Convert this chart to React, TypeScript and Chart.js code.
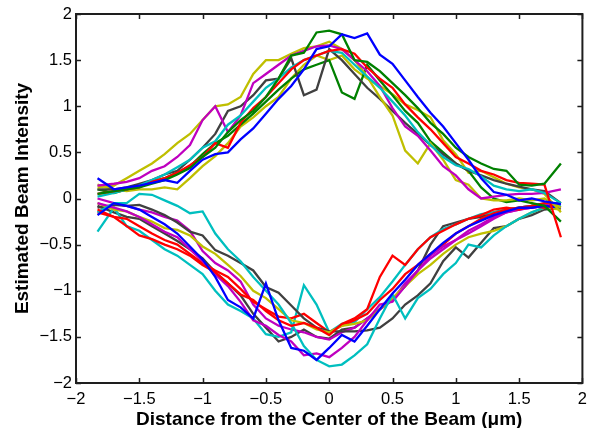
import React, { useEffect, useRef } from 'react';
import { Chart, registerables } from 'chart.js';

Chart.register(...registerables);

// x positions (µm) shared by all traces
const X = [-1.83, -1.7, -1.6, -1.5, -1.4, -1.3, -1.2, -1.1, -1.0, -0.9, -0.8, -0.7, -0.6, -0.5, -0.4, -0.3, -0.2, -0.1, 0, 0.1, 0.2, 0.3, 0.4, 0.5, 0.6, 0.7, 0.8, 0.9, 1.0, 1.1, 1.2, 1.3, 1.4, 1.5, 1.6, 1.7, 1.83];

// positive (upper) traces
const upBlue = [0.22, 0.1, 0.12, 0.14, 0.17, 0.2, 0.17, 0.3, 0.42, 0.48, 0.5, 0.64, 0.76, 0.92, 1.08, 1.22, 1.4, 1.62, 1.65, 1.78, 1.74, 1.79, 1.56, 1.46, 1.28, 1.1, 0.93, 0.78, 0.6, 0.42, 0.22, 0.07, 0.04, -0.02, 0.0, -0.03, -0.06];
const upGreen1 = [0.05, 0.08, 0.1, 0.12, 0.16, 0.2, 0.26, 0.33, 0.45, 0.55, 0.72, 0.85, 0.95, 1.1, 1.3, 1.55, 1.58, 1.8, 1.82, 1.78, 1.5, 1.48, 1.38, 1.25, 1.12, 0.98, 0.82, 0.7, 0.55, 0.45, 0.38, 0.32, 0.3, 0.15, 0.14, 0.16, 0.38];
const upRed = [0.05, 0.08, 0.1, 0.12, 0.18, 0.22, 0.28, 0.36, 0.45, 0.6, 0.55, 0.82, 0.98, 1.1, 1.25, 1.4, 1.5, 1.55, 1.6, 1.62, 1.57, 1.42, 1.3, 1.2, 1.02, 0.88, 0.75, 0.6, 0.45, 0.38, 0.3, 0.26, 0.2, 0.17, 0.16, 0.15, -0.42];
const upCyan = [0.02, 0.06, 0.1, 0.14, 0.2, 0.26, 0.34, 0.42, 0.55, 0.62, 0.8, 0.9, 1.05, 1.2, 1.3, 1.42, 1.5, 1.55, 1.6, 1.58, 1.45, 1.32, 1.2, 1.05, 0.9, 0.72, 0.58, 0.45, 0.36, 0.32, 0.24, 0.14, 0.1, 0.08, 0.1, 0.06, -0.05];
const upMagenta = [0.14, 0.16, 0.18, 0.22, 0.3, 0.35, 0.45, 0.58, 0.85, 1.0, 0.72, 0.9, 1.25, 1.35, 1.45, 1.55, 1.6, 1.65, 1.66, 1.62, 1.5, 1.38, 1.22, 0.98, 0.78, 0.68, 0.52, 0.35, 0.25, 0.1, 0.0, 0.02, 0.04, 0.05, 0.05, 0.06, 0.1];
const upYellow1 = [0.12, 0.14, 0.22, 0.3, 0.38, 0.48, 0.6, 0.7, 0.85, 1.0, 1.02, 1.1, 1.35, 1.5, 1.5, 1.57, 1.63, 1.65, 1.7, 1.62, 1.5, 1.32, 1.1, 0.9, 0.52, 0.38, 0.6, 0.42, 0.2, 0.15, 0.0, -0.02, -0.02, 0.0, -0.02, 0.0, -0.1];
const upGray = [0.1, 0.1, 0.12, 0.16, 0.2, 0.26, 0.3, 0.42, 0.55, 0.7, 0.95, 1.0, 1.12, 1.28, 1.3, 1.52, 1.12, 1.18, 1.62, 1.5, 1.35, 1.2, 1.08, 0.95, 0.82, 0.7, 0.58, 0.48, 0.38, 0.3, 0.25, 0.2, 0.16, 0.13, 0.1, 0.08, -0.05];
const upGreen2 = [0.1, 0.06, 0.1, 0.14, 0.18, 0.22, 0.28, 0.35, 0.48, 0.6, 0.68, 0.8, 0.92, 1.05, 1.18, 1.3, 1.4, 1.45, 1.5, 1.15, 1.08, 1.45, 1.28, 1.12, 0.95, 0.82, 0.62, 0.5, 0.38, 0.3, 0.12, 0.0, -0.04, -0.02, -0.05, -0.08, -0.25];
const upYellow2 = [0.15, 0.1, 0.08, 0.1, 0.1, 0.12, 0.1, 0.22, 0.35, 0.46, 0.6, 0.78, 0.88, 1.0, 1.1, 1.3, 1.45, 1.55, 1.5, 1.55, 1.4, 1.3, 1.22, 1.13, 1.02, 0.96, 0.88, 0.63, 0.48, 0.28, 0.3, 0.23, 0.16, 0.12, 0.1, 0.05, -0.15];

// negative (lower) traces
const loBlue = [-0.18, -0.05, -0.08, -0.12, -0.2, -0.28, -0.38, -0.52, -0.66, -0.85, -1.1, -1.18, -1.3, -0.92, -1.32, -1.62, -1.65, -1.75, -1.62, -1.48, -1.55, -1.38, -1.2, -1.03, -0.88, -0.72, -0.6, -0.48, -0.38, -0.3, -0.24, -0.18, -0.14, -0.1, -0.1, -0.08, -0.1];
const loRed1 = [-0.12, -0.2, -0.3, -0.4, -0.44, -0.5, -0.55, -0.62, -0.72, -0.8, -0.92, -1.04, -1.1, -1.22, -1.32, -1.38, -1.35, -1.4, -1.48, -1.36, -1.3, -1.2, -0.85, -0.62, -0.72, -0.55, -0.42, -0.35, -0.28, -0.22, -0.18, -0.12, -0.1, -0.12, -0.08, -0.1, -0.05];
const loCyan1 = [-0.15, -0.05, -0.05, 0.05, 0.04, -0.02, -0.08, -0.16, -0.14, -0.38, -0.55, -0.68, -0.85, -1.0, -1.15, -1.35, -1.6, -1.75, -1.82, -1.8, -1.7, -1.58, -1.3, -1.04, -1.3, -1.08, -0.98, -0.82, -0.7, -0.5, -0.53, -0.4, -0.3, -0.22, -0.15, -0.1, -0.08];
const loMagenta1 = [-0.05, -0.1, -0.14, -0.2, -0.28, -0.36, -0.42, -0.55, -0.68, -0.82, -0.95, -1.12, -1.32, -1.38, -1.48, -1.55, -1.7, -1.68, -1.72, -1.62, -1.5, -1.32, -1.15, -1.12, -0.95, -0.78, -0.62, -0.52, -0.45, -0.38, -0.3, -0.22, -0.15, -0.12, -0.1, -0.08, -0.05];
const loYellow = [-0.05, -0.12, -0.14, -0.2, -0.25, -0.32, -0.34, -0.4, -0.52, -0.6, -0.72, -0.84, -1.0, -1.08, -1.2, -1.32, -1.35, -1.42, -1.45, -1.38, -1.36, -1.32, -1.2, -1.08, -0.95, -0.82, -0.72, -0.6, -0.5, -0.42, -0.38, -0.35, -0.3, -0.22, -0.15, -0.1, -0.12];
const loGray1 = [-0.1, -0.07, -0.08, -0.07, -0.12, -0.18, -0.26, -0.36, -0.4, -0.56, -0.62, -0.7, -0.78, -0.96, -1.02, -1.16, -1.3, -1.4, -1.44, -1.44, -1.44, -1.43, -1.4, -1.3, -1.15, -1.05, -0.92, -0.68, -0.53, -0.64, -0.48, -0.32, -0.3, -0.22, -0.18, -0.12, -0.1];
const loRed2 = [-0.15, -0.2, -0.22, -0.3, -0.38, -0.45, -0.5, -0.6, -0.7, -0.78, -0.85, -0.98, -1.12, -1.2, -1.28, -1.3, -1.25, -1.35, -1.45, -1.38, -1.32, -1.25, -1.1, -0.98, -0.82, -0.72, -0.6, -0.5, -0.38, -0.3, -0.22, -0.16, -0.12, -0.1, -0.08, -0.05, -0.1];
const loCyan2 = [-0.36, -0.1, -0.3, -0.35, -0.45, -0.55, -0.62, -0.72, -0.82, -1.0, -1.15, -1.22, -1.3, -1.47, -1.5, -1.45, -0.94, -1.15, -1.45, -1.36, -1.34, -1.2, -1.07, -0.9, -0.72, -0.55, -0.42, -0.33, -0.28, -0.22, -0.17, -0.15, -0.12, -0.1, -0.08, -0.05, -0.1];
const loMagenta2 = [0.0, -0.05, -0.08, -0.12, -0.15, -0.2, -0.24, -0.35, -0.57, -0.7, -0.78, -0.9, -1.15, -1.3, -1.38, -1.42, -1.45, -1.5, -1.53, -1.45, -1.4, -1.3, -1.2, -1.1, -0.92, -0.78, -0.65, -0.55, -0.45, -0.35, -0.28, -0.2, -0.15, -0.12, -0.1, -0.08, -0.12];
const loGray2 = [-0.08, -0.15, -0.2, -0.22, -0.3, -0.38, -0.46, -0.55, -0.65, -0.8, -0.92, -1.05, -1.25, -1.4, -1.55, -1.5, -1.42, -1.5, -1.52, -1.42, -1.4, -1.3, -1.2, -1.1, -0.95, -0.78, -0.5, -0.3, -0.26, -0.22, -0.2, -0.15, -0.12, -0.1, -0.08, -0.06, -0.05];

const X_TITLE = 'Distance from the Center of the Beam (\u03bcm)';
const Y_TITLE = 'Estimated Beam Intensity';

const BLUE = '#0000ff';
const GREEN = '#008000';
const RED = '#ff0000';
const CYAN = '#00bfbf';
const MAGENTA = '#bf00bf';
const YELLOW = '#bfbf00';
const GRAY = '#404040';

const TRACES: [number[], string][] = [
  [upBlue, BLUE], [upGreen1, GREEN], [upRed, RED], [upCyan, CYAN], [upMagenta, MAGENTA],
  [upYellow1, YELLOW], [upGray, GRAY], [upGreen2, GREEN], [upYellow2, YELLOW],
  [loBlue, BLUE], [loRed1, RED], [loCyan1, CYAN], [loMagenta1, MAGENTA], [loYellow, YELLOW],
  [loGray1, GRAY], [loRed2, RED], [loCyan2, CYAN], [loMagenta2, MAGENTA], [loGray2, GRAY],
];

const FONT = '"Liberation Sans", Arial, Helvetica, sans-serif';

const fmt = (v: number) => {
  const r = Math.round(v * 10) / 10;
  return r < 0 ? '\u2212' + String(Math.abs(r)) : String(r);
};

const framePlugin = {
  id: 'matlabFrame',
  afterDatasetsDraw(chart: any) {
    const { ctx, chartArea: a, scales } = chart;
    const L = 5;
    ctx.save();
    ctx.strokeStyle = '#1e1e1e';
    ctx.lineWidth = 1.5;
    ctx.beginPath();
    for (const t of scales.x.ticks) {
      const px = Math.round(scales.x.getPixelForValue(t.value)) + 0.5;
      ctx.moveTo(px, a.bottom); ctx.lineTo(px, a.bottom - L);
      ctx.moveTo(px, a.top); ctx.lineTo(px, a.top + L);
    }
    for (const t of scales.y.ticks) {
      const py = Math.round(scales.y.getPixelForValue(t.value)) + 0.5;
      ctx.moveTo(a.left, py); ctx.lineTo(a.left + L, py);
      ctx.moveTo(a.right, py); ctx.lineTo(a.right - L, py);
    }
    ctx.stroke();
    ctx.lineWidth = 2;
    ctx.strokeRect(a.left, a.top, a.right - a.left, a.bottom - a.top);
    ctx.restore();
  },
};

export default function App() {
  const ref = useRef<HTMLCanvasElement | null>(null);
  useEffect(() => {
    if (!ref.current) return;
    const datasets = TRACES.map(([vals, color], i) => ({
      label: 'trace ' + (i + 1),
      data: X.map((x, j) => ({ x, y: vals[j] })),
      borderColor: color,
      backgroundColor: color,
      borderWidth: 2.3,
      pointRadius: 0,
      tension: 0,
      fill: false,
    }));
    const chart = new Chart(ref.current, {
      type: 'line',
      data: { datasets },
      options: {
        animation: false,
        responsive: false,
        maintainAspectRatio: false,
        layout: { padding: { left: 0, right: 11, top: 14, bottom: 0 } },
        plugins: { legend: { display: false }, tooltip: { enabled: false } },
        scales: {
          x: {
            type: 'linear',
            min: -2,
            max: 2,
            grid: { display: false, drawTicks: false },
            border: { display: false },
            ticks: {
              stepSize: 0.5,
              autoSkip: false,
              maxRotation: 0,
              padding: 7,
              color: '#000',
              font: { family: FONT, size: 16.5 },
              callback: (v: any) => fmt(Number(v)),
            },
            title: {
              display: true,
              text: X_TITLE,
              color: '#000',
              font: { family: FONT, size: 19, weight: 'bold' },
              padding: { top: 0, bottom: -3 },
            },
            afterFit: (s: any) => { s.height = 45; },
          },
          y: {
            type: 'linear',
            min: -2,
            max: 2,
            grid: { display: false, drawTicks: false },
            border: { display: false },
            ticks: {
              stepSize: 0.5,
              autoSkip: false,
              padding: 4,
              color: '#000',
              font: { family: FONT, size: 16.5 },
              callback: (v: any) => fmt(Number(v)),
            },
            title: {
              display: true,
              text: Y_TITLE,
              color: '#000',
              font: { family: FONT, size: 19, weight: 'bold' },
              padding: { top: 11, bottom: 0 },
            },
            afterFit: (s: any) => { s.width = 76; },
          },
        },
      },
      plugins: [framePlugin],
    });
    return () => chart.destroy();
  }, []);
  return (
    <div style={{ position: 'absolute', left: 0, top: 0, width: 594, height: 428, background: '#fff' }}>
      <canvas ref={ref} width={594} height={428} style={{ display: 'block' }} />
    </div>
  );
}
